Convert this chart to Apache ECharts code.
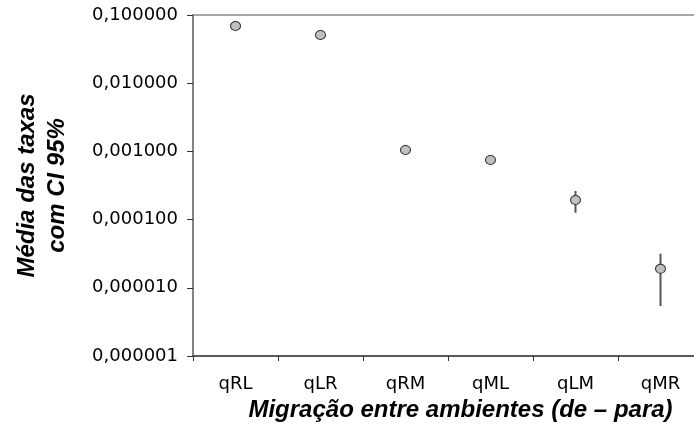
<!DOCTYPE html>
<html>
<head>
<meta charset="utf-8">
<script src="https://cdn.jsdelivr.net/npm/echarts@6/dist/echarts.min.js"></script>
<style>html,body{margin:0;padding:0;background:#fff}#c{width:694px;height:436px}</style>
</head>
<body>
<div id="c"></div>
<script>
var categories = ['qRL', 'qLR', 'qRM', 'qML', 'qLM', 'qMR'];
var means = [0.069, 0.051, 0.00105, 0.00075, 0.000194, 0.000019];
var lower = [0.066, 0.049, 0.00100, 0.00072, 0.000126, 0.0000054];
var upper = [0.072, 0.053, 0.00110, 0.00078, 0.000263, 0.0000316];
var yTickLabels = ['0,000001', '0,000010', '0,000100', '0,001000', '0,010000', '0,100000'];

var chart = echarts.init(document.getElementById('c'));
var errData = categories.map(function (c, i) { return [i, lower[i], upper[i]]; });

chart.setOption({
  animation: false,
  grid: { left: 193, top: 15, width: 510, height: 341, outerBoundsMode: 'none', containLabel: false },
  xAxis: [{
    type: 'category',
    data: categories,
    boundaryGap: true,
    axisLine: { lineStyle: { color: '#5a5a5a', width: 2 } },
    axisTick: { show: true, length: 5, alignWithLabel: false, lineStyle: { color: '#333', width: 1 } },
    axisLabel: { color: '#000', fontFamily: 'DejaVu Sans', fontSize: 18, margin: 19 },
    name: 'Migração entre ambientes (de – para)',
    nameLocation: 'middle',
    nameGap: 31,
    nameTextStyle: { color: '#000', fontFamily: 'Liberation Sans', fontSize: 24, fontWeight: 'bold', fontStyle: 'italic', padding: [0, 0, 0, 25] }
  }, {
    type: 'category',
    data: categories,
    position: 'top',
    axisLine: { lineStyle: { color: '#8a8a8a', width: 1.5 } },
    axisTick: { show: false },
    axisLabel: { show: false }
  }],
  yAxis: {
    type: 'log',
    logBase: 10,
    min: 0.000001,
    max: 0.1,
    axisLine: { show: true, lineStyle: { color: '#5a5a5a', width: 1.5 } },
    axisTick: { show: true, length: 6, lineStyle: { color: '#333', width: 1 } },
    splitLine: { show: false },
    axisLabel: {
      color: '#000', fontFamily: 'DejaVu Sans', fontSize: 18, margin: 15,
      formatter: function (v, idx) { return yTickLabels[Math.round(Math.log10(v)) + 6]; }
    },
    name: 'Média das taxas\ncom CI 95%',
    nameLocation: 'middle',
    nameRotate: 90,
    nameGap: 121,
    nameTextStyle: { color: '#000', fontFamily: 'Liberation Sans', fontSize: 24, fontWeight: 'bold', fontStyle: 'italic', lineHeight: 30, align: 'center' }
  },
  series: [{
    type: 'custom',
    data: errData,
    z: 2,
    renderItem: function (params, api) {
      var x = api.value(0);
      var p1 = api.coord([x, api.value(1)]);
      var p2 = api.coord([x, api.value(2)]);
      return {
        type: 'line',
        shape: { x1: p1[0], y1: p1[1], x2: p2[0], y2: p2[1] },
        style: { stroke: '#555', lineWidth: 2 }
      };
    },
    encode: { x: 0, y: [1, 2] }
  }, {
    type: 'scatter',
    data: means.map(function (v, i) { return [i, v]; }),
    symbol: 'circle',
    symbolSize: [10, 9],
    z: 3,
    itemStyle: { color: '#c0c0c0', borderColor: '#333', borderWidth: 1, opacity: 1 }
  }]
});
</script>
</body>
</html>
